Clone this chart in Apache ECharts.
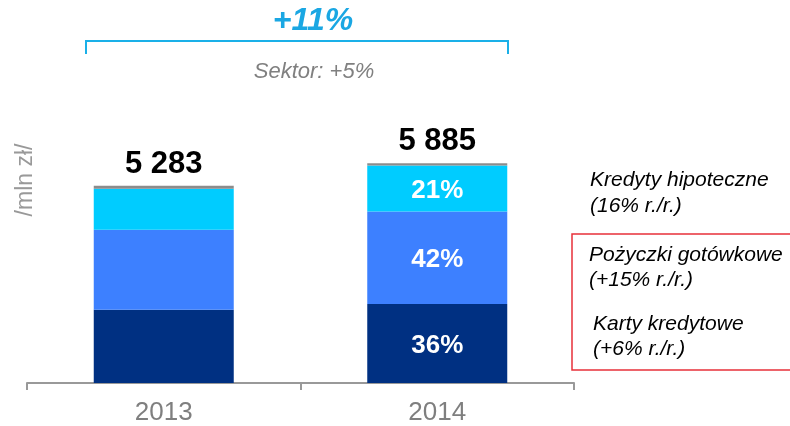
<!DOCTYPE html>
<html>
<head>
<meta charset="utf-8">
<script src="https://cdn.jsdelivr.net/npm/echarts@6/dist/echarts.min.js"></script>
<style>
  html, body { margin: 0; padding: 0; background: #fff; }
  #chart { width: 790px; height: 426px; }
</style>
</head>
<body>
<div id="chart"></div>
<script>
  // dane (mln zł)
  const years = ['2013', '2014']
  const karty = [1960, 2119]
  const pozyczki = [2145, 2472]
  const hipoteczne = [1100, 1236]
  const inne = [78, 58]
  const totals = [5283, 5885]
  const kartyPct = ['', '36%']
  const pozyczkiPct = ['', '42%']
  const hipotecznePct = ['', '21%']

  const font = '"Liberation Sans", Arial, sans-serif'
  const chart = echarts.init(document.getElementById('chart'))

  const fmt = (v) => String(v).replace(/\B(?=(\d{3})+(?!\d))/g, ' ')

  function segment(name, data, color, pct) {
    return {
      name: name,
      type: 'bar',
      stack: 'total',
      barWidth: 140,
      data: data,
      itemStyle: { color: color },
      label: {
        show: true,
        position: 'inside',
        offset: [0, 2],
        color: '#fff',
        fontFamily: font,
        fontWeight: 'bold',
        fontSize: 26,
        formatter: (p) => pct[p.dataIndex],
      },
      silent: true,
    }
  }

  // opis w dwóch liniach (środek pierwszej linii w y)
  function note(x, y, text, lh) {
    return {
      type: 'text', x: x, y: y - lh / 2,
      style: { text: text, fill: '#000', font: 'italic 21px ' + font, lineHeight: lh, textVerticalAlign: 'top' },
    }
  }

  const option = {
    animation: false,
    grid: { left: 27, right: 216, top: 159, bottom: 43 },
    xAxis: {
      type: 'category',
      data: years,
      axisLine: { lineStyle: { color: '#999', width: 2 } },
      axisTick: { show: true, length: 7, lineStyle: { color: '#999', width: 2 } },
      axisLabel: { color: '#7f7f7f', fontSize: 26, fontFamily: font, margin: 17 },
    },
    yAxis: {
      type: 'value',
      min: 0,
      max: 6000,
      show: false,
    },
    series: [
      segment('Karty kredytowe', karty, '#003082', kartyPct),
      segment('Pożyczki gotówkowe', pozyczki, '#3d80ff', pozyczkiPct),
      segment('Kredyty hipoteczne', hipoteczne, '#00ccff', hipotecznePct),
      {
        name: 'Inne',
        type: 'bar',
        stack: 'total',
        barWidth: 140,
        data: inne,
        itemStyle: { color: '#8c8c8c' },
        label: {
          show: true,
          position: 'top',
          distance: 6,
          color: '#000',
          fontFamily: font,
          fontWeight: 'bold',
          fontSize: 31,
          formatter: (p) => fmt(totals[p.dataIndex]),
        },
        silent: true,
      },
    ],
    graphic: [
      // klamra wzrostu
      {
        type: 'polyline',
        shape: { points: [[86, 54], [86, 41], [508, 41], [508, 54]] },
        style: { stroke: '#1ab0e8', lineWidth: 2, fill: null },
      },
      {
        type: 'text', x: 313, y: 21,
        style: {
          text: '+11%', fill: '#1aa7e3', font: 'italic bold 32px ' + font,
          textAlign: 'center', textVerticalAlign: 'middle',
        },
      },
      {
        type: 'text', x: 314, y: 72,
        style: {
          text: 'Sektor: +5%', fill: '#808080', font: 'italic 22px ' + font,
          textAlign: 'center', textVerticalAlign: 'middle',
        },
      },
      {
        type: 'text', x: 26, y: 180, rotation: Math.PI / 2,
        style: {
          text: '/mln zł/', fill: '#999', font: '23px ' + font,
          textAlign: 'center', textVerticalAlign: 'middle',
        },
      },
      // opisy po prawej
      note(590, 180, 'Kredyty hipoteczne\n(16% r./r.)', 26),
      {
        type: 'rect',
        shape: { x: 572, y: 234, width: 230, height: 136 },
        style: { stroke: '#e8313a', lineWidth: 1.5, fill: null },
      },
      note(589, 255, 'Pożyczki gotówkowe\n(+15% r./r.)', 25),
      note(593, 324, 'Karty kredytowe\n(+6% r./r.)', 25),
    ],
  }

  chart.setOption(option)
</script>
</body>
</html>
